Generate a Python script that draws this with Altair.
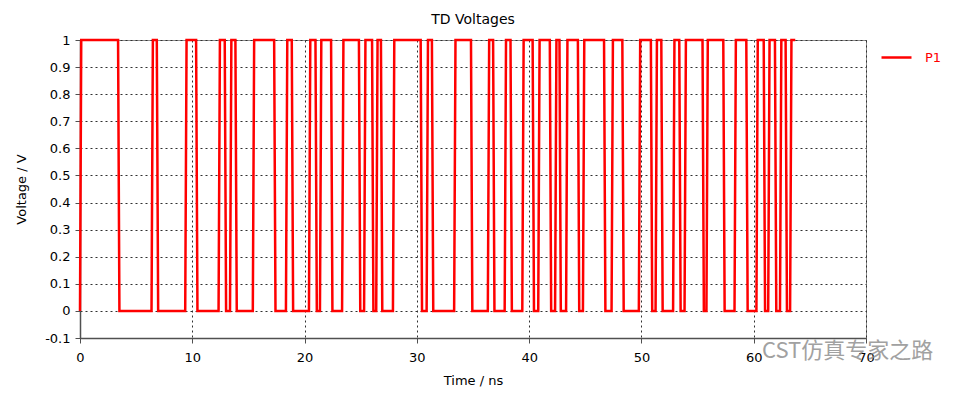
import altair as alt
import pandas as pd

# Transition instants (ns) of the P1 bit stream.
# Level starts at 0 and toggles at each edge.
edge_times = [0.05, 3.45, 6.43, 6.9, 9.43, 10.4, 12.4, 12.95, 13.42, 13.9,
              15.45, 17.35, 18.4, 18.92, 20.45, 21.03, 21.43, 22.42, 23.4, 24.9,
              25.36, 26.07, 26.44, 26.86, 27.93, 30.4, 30.93, 31.4, 33.38, 34.88,
              36.38, 36.85, 37.88, 38.4, 39.45, 40.37, 40.87, 41.9, 42.37, 42.76,
              43.35, 44.4, 44.85, 46.73, 47.4, 48.36, 49.83, 50.9, 51.32, 51.83,
              52.88, 53.43, 53.9, 55.5, 55.85, 57.35, 58.35, 59.4, 60.3, 60.95,
              61.35, 61.95, 62.4, 62.9, 63.3]
start_level = 0.0
end_time = 63.7
low_level = 0.0
high_level = 1.0
edge_width = 0.12

x_ticks = [0, 10, 20, 30, 40, 50, 60, 70]
y_ticks = [-0.1, 0, 0.1, 0.2, 0.3, 0.4, 0.5, 0.6, 0.7, 0.8, 0.9, 1]

# build the waveform polyline
ts, vs = [0.0], [start_level]
level = start_level
for te in edge_times:
    new = high_level if level == low_level else low_level
    ts += [max(te - edge_width / 2, 0.0), te + edge_width / 2]
    vs += [level, new]
    level = new
ts.append(end_time)
vs.append(level)
df = pd.DataFrame({"t": ts, "v": vs, "series": "P1", "order": range(len(ts))})

FONT = "DejaVu Sans"

line = alt.Chart(df).mark_line(strokeWidth=2.5, interpolate="linear").encode(
    x=alt.X("t:Q", scale=alt.Scale(domain=[0, 70], nice=False, zero=False),
            axis=alt.Axis(values=x_ticks, title="Time / ns", format="d",
                          labelPadding=8, titlePadding=10, labelFlush=False)),
    y=alt.Y("v:Q", scale=alt.Scale(domain=[-0.1, 1], nice=False, zero=False),
            axis=alt.Axis(values=y_ticks, title="Voltage / V", labelPadding=5,
                          titlePadding=16, labelFlush=False,
                          labelExpr="replace(format(datum.value, '.1~f'), '\u2212', '-')")),
    order="order:Q",
    color=alt.Color("series:N", scale=alt.Scale(domain=["P1"], range=["#ff0000"]),
                    legend=alt.Legend(title=None, orient="none", legendX=800, legendY=1,
                                      symbolType="stroke", symbolSize=900,
                                      symbolStrokeWidth=2.5, labelColor="#ff0000",
                                      labelFontSize=13, labelFont=FONT, labelOffset=12)),
)

wm = alt.Chart(pd.DataFrame({"w": ["CST仿真专家之路"]})).mark_text(
    align="left", baseline="middle", font="Noto Sans CJK SC", fontSize=22,
    color="#8a8a8a", opacity=0.8
).encode(text="w:N", x=alt.value(682), y=alt.value(311))

chart = alt.layer(line, wm).properties(
    width=786, height=298,
    title=alt.TitleParams("TD Voltages", font=FONT, fontSize=14, fontWeight="normal",
                          color="#000000", offset=7),
    autosize=alt.AutoSizeParams(type="none"),
    padding={"left": 72, "top": 32, "right": 101, "bottom": 55},
).configure_view(stroke="#8c8c8c", strokeWidth=1).configure_axis(
    labelFont=FONT, labelFontSize=13, labelColor="#000000",
    titleFont=FONT, titleFontSize=13, titleFontWeight="normal", titleColor="#000000",
    grid=True, gridColor="#303030", gridDash=[2, 3], gridWidth=1, gridOpacity=1,
    domainColor="#505050", domainWidth=1.5, tickColor="#505050", tickSize=5,
)

chart.save("out.html", embed_options={"renderer": "svg", "actions": False})
